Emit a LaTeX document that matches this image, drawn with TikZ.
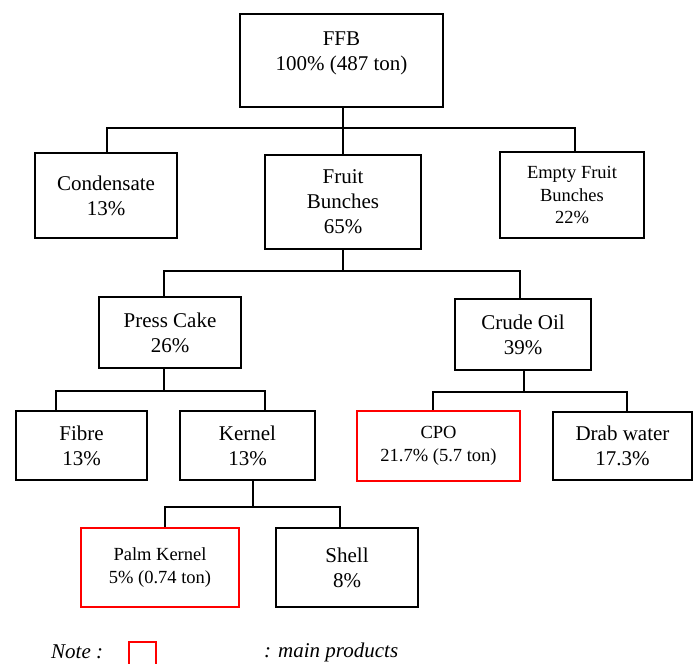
\documentclass[tikz,border=0pt]{standalone}
\usepackage{fontspec}
\setmainfont{Liberation Serif}
\begin{document}
\begin{tikzpicture}[x=1pt,y=-1pt,
  box/.style={draw, line width=1.7pt, inner sep=0pt, align=center, font=\fontsize{21}{25}\selectfont},
  smallbox/.style={box, font=\fontsize{18.5}{22.5}\selectfont},
  mainprod/.style={draw=red},
  conn/.style={line width=1.7pt},
  notetext/.style={font=\fontsize{21}{25}\selectfont\itshape, inner sep=0pt, anchor=west}]
\useasboundingbox (0,0) rectangle (694,664);
% level 0
\node[box, minimum width=203, minimum height=93] (ffb) at (341.5,60.5) {};
\node[align=center, inner sep=0pt, font=\fontsize{21}{25}\selectfont] (ffbtext) at (341.5,53) {FFB\\100\% (487 ton)};
% level 1
\node[box, minimum width=142, minimum height=85] (cond) at (106,195.5) {Condensate\\13\%};
\node[box, minimum width=156, minimum height=94] (fb) at (343,202) {Fruit\\Bunches\\65\%};
\node[smallbox, minimum width=144, minimum height=86] (efb) at (572,195) {Empty Fruit\\Bunches\\22\%};
% level 2
\node[box, minimum width=142, minimum height=71] (pc) at (170,332.5) {Press Cake\\26\%};
\node[box, minimum width=136, minimum height=71] (co) at (523,334.5) {Crude Oil\\39\%};
% level 3
\node[box, minimum width=131, minimum height=69] (fibre) at (81.5,445.5) {Fibre\\13\%};
\node[box, minimum width=135, minimum height=69] (kernel) at (247.5,445.5) {Kernel\\13\%};
\node[smallbox, mainprod, minimum width=163, minimum height=70] (cpo) at (438.5,446) {CPO\\21.7\% (5.7 ton)};
\node[box, minimum width=139, minimum height=68] (drab) at (622.5,446) {Drab water\\17.3\%};
% level 4
\node[smallbox, mainprod, minimum width=158, minimum height=79] (palm) at (160,567.5) {Palm Kernel\\5\% (0.74 ton)};
\node[box, minimum width=142, minimum height=79] (shell) at (347,567.5) {Shell\\8\%};
% connectors level 0 -> 1
\coordinate (b1l) at (107,128);
\coordinate (b1r) at (575,128);
\draw[conn] (fb.north |- ffb.south) -- (fb.north);
\draw[conn] (b1l |- cond.north) -- (b1l) -- (b1r) -- (b1r |- efb.north);
% level 1 -> 2
\coordinate (b2l) at (164,271);
\coordinate (b2r) at (520,271);
\draw[conn] (fb.south) -- (fb.south |- b2l);
\draw[conn] (b2l |- pc.north) -- (b2l) -- (b2r) -- (b2r |- co.north);
% level 2 -> 3 left
\coordinate (p3) at (164,391);
\coordinate (b3l) at (56,391);
\coordinate (b3r) at (265,391);
\draw[conn] (p3 |- pc.south) -- (p3);
\draw[conn] (b3l |- fibre.north) -- (b3l) -- (b3r) -- (b3r |- kernel.north);
% level 2 -> 3 right
\coordinate (q3) at (524,392);
\coordinate (c3l) at (433,392);
\coordinate (c3r) at (627,392);
\draw[conn] (q3 |- co.south) -- (q3);
\draw[conn] (c3l |- cpo.north) -- (c3l) -- (c3r) -- (c3r |- drab.north);
% level 3 -> 4
\coordinate (k4) at (253,507);
\coordinate (d4l) at (165,507);
\coordinate (d4r) at (340,507);
\draw[conn] (k4 |- kernel.south) -- (k4);
\draw[conn] (d4l |- palm.north) -- (d4l) -- (d4r) -- (d4r |- shell.north);
% note
\node[notetext] (note) at (51,652) {Note :};
\draw[conn, red] (129,664) -- (129,642) -- (156,642) -- (156,664);
\node[notetext] (notemain) at (264,652) {: main products};
\end{tikzpicture}
\end{document}
